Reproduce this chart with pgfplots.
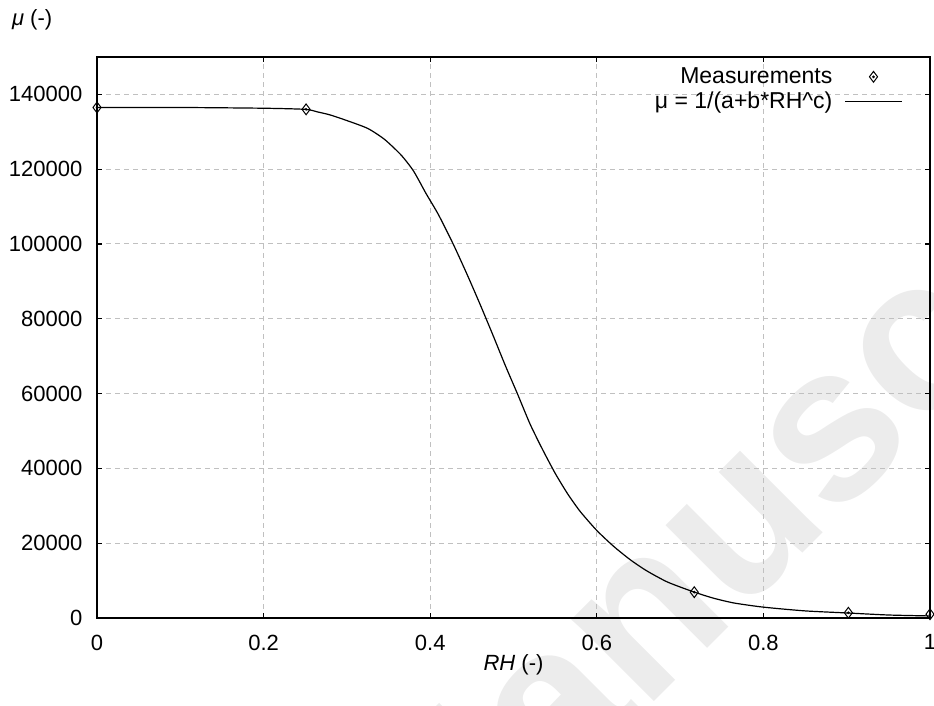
\documentclass[border=0pt]{standalone}
\usepackage{fontspec}
\setmainfont{Liberation Sans}
\usepackage{pgfplots}
\pgfplotsset{compat=1.18}
\definecolor{wm}{RGB}{236,236,236}
\definecolor{gridc}{RGB}{192,192,192}
\pgfplotsset{
  legmark/.style={legend image code/.code={\draw[##1] plot coordinates {(14.25pt,0pt)}; \fill[black] (14.25pt,0pt) circle (0.45pt);}},
  legline/.style={legend image code/.code={\draw[##1] (0pt,0pt) -- (28.5pt,0pt);}},
}

\begin{document}
\begin{tikzpicture}
\begin{axis}[
  set layers,
  scale only axis, width=416.5pt, height=280.5pt,
  xmin=0, xmax=1, ymin=0, ymax=150000,
  xtick={0,0.2,0.4,0.6,0.8,1},
  ytick={0,20000,40000,60000,80000,100000,120000,140000},
  scaled y ticks=false,
  /pgf/number format/assume math mode=true,
  yticklabel style={/pgf/number format/fixed, /pgf/number format/set thousands separator={}, xshift=-3.8pt},
  xticklabel style={yshift=-4.8pt},
  grid=major,
  major grid style={gridc, dash pattern=on 2.5pt off 2pt, line width=0.5pt},
  axis line style={line width=0.6pt},
  tick style={black, line width=0.6pt},
  major tick length=2.5pt,
  tick align=inside,
  clip=false,
  font=\fontsize{11}{13}\selectfont,
  tick label style={font=\fontsize{11}{13}\selectfont},
  ylabel={\textit{μ} (-)},
  ylabel style={rotate=-90, at={(axis description cs:0,1)}, anchor=west, xshift=-46pt, yshift=18.5pt},
  xlabel={\textit{RH} (-)},
  xlabel style={at={(axis description cs:0.5,0)}, anchor=center, yshift=-23.5pt},
  legend style={draw=none, fill=none, at={(axis description cs:1,1)}, anchor=north east,
    xshift=-13.5pt, yshift=-3pt, inner sep=0pt, row sep=-1.2pt, column sep=4pt,
    font=\fontsize{11.5}{13}\selectfont},
  legend cell align=right,
  legend plot pos=right,
]
\begin{pgfonlayer}{axis background}
\node[overlay, rotate=45, anchor=base west, inner sep=0pt, text=wm,
  font=\fontsize{110}{110}\selectfont\bfseries] at (rel axis cs:0.396,-0.555) {Manuscript};
\end{pgfonlayer}

\addplot[only marks, mark=diamond, mark size=2.7pt, mark options={black, line width=0.5pt, fill=none}, legmark]
  coordinates {(0,136500) (0.251,136000) (0.717,6900) (0.902,1400) (1.0,1000)};
\addlegendentry{Measurements}
\addplot[only marks, mark=*, mark size=0.45pt, black, forget plot]
  coordinates {(0,136500) (0.251,136000) (0.717,6900) (0.902,1400) (1.0,1000)};

\addplot[black, line width=0.6pt, no markers, smooth, tension=0.4, legline]
  coordinates {
  (0,136500) (0.1,136500) (0.2,136300) (0.25,136000) (0.265,135300) (0.28,134500)
  (0.30,133000) (0.325,130900) (0.345,128000) (0.365,123800) (0.38,119500)
  (0.395,113500) (0.41,107800) (0.428,99800) (0.445,91500) (0.46,83800)
  (0.475,75800) (0.49,67600) (0.505,59800) (0.52,51800) (0.535,45000)
  (0.55,38700) (0.565,33200) (0.58,28500) (0.60,23400) (0.62,19200)
  (0.64,15600) (0.66,12600) (0.685,9600) (0.716,7000) (0.74,5300)
  (0.765,4000) (0.80,2900) (0.85,1900) (0.90,1350) (0.95,800) (1.0,550)};
\addlegendentry{μ = 1/(a+b*RH\textasciicircum c)}

\coordinate (pTL) at (rel axis cs:-0.11645,1.10160);
\coordinate (pBR) at (rel axis cs:1.00480,-0.15686);
\end{axis}
\pgfresetboundingbox
\useasboundingbox (pTL) rectangle (pBR);
\end{tikzpicture}
\end{document}
